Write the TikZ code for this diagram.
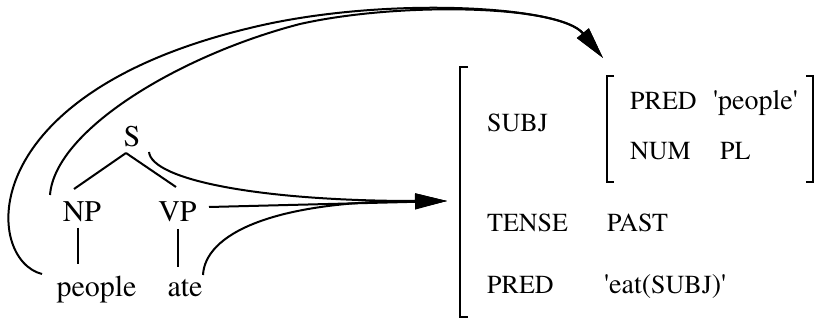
\documentclass[tikz,border=0pt]{standalone}
\usepackage{fontspec}
\setmainfont{TeX Gyre Termes}
\usetikzlibrary{arrows.meta}
\newcommand{\qq}{\textquotesingle}
\begin{document}
\begin{tikzpicture}[x=1pt,y=-1pt,
  treelab/.style={inner sep=0pt,anchor=base,font=\fontsize{30}{36}\selectfont},
  featlab/.style={inner sep=0pt,anchor=base west,font=\fontsize{26}{31}\selectfont},
  vallab/.style={inner sep=0pt,anchor=base west,font=\fontsize{28}{33}\selectfont},
  branch/.style={line width=2pt},
  brack/.style={line width=2.4pt},
  link/.style={line width=2pt,-{Triangle[length=32pt,width=15pt]}}]
\useasboundingbox (0,0) rectangle (828,320);
% tree
\node[treelab] (S) at (132,147) {S};
\node[treelab] (NP) at (82,222) {NP};
\node[treelab] (VP) at (177.5,222) {VP};
\node[treelab] (people) at (96.5,297) {people};
\node[treelab] (ate) at (185,297) {ate};
\coordinate (apex) at (126,153);
\draw[branch] (apex) -- (74,189);
\draw[branch] (apex) -- (176,187);
\draw[branch] (78,228) -- (78,264);
\draw[branch] (178,229) -- (178,267);
% feature structure
\node[featlab] (subj) at (487,132) {SUBJ};
\node[featlab] (pred1) at (630,110) {PRED};
\node[vallab] (peopleval) at (713,110) {\qq people\qq};
\node[featlab] (num) at (630,160) {NUM};
\node[featlab] (pl) at (720,160) {PL};
\node[featlab] (tense) at (487,232) {TENSE};
\node[featlab] (past) at (607,232) {PAST};
\node[featlab] (pred2) at (487,294) {PRED};
\node[vallab] (eatval) at (604,294) {\qq eat(\fontsize{26}{31}\selectfont SUBJ\fontsize{28}{33}\selectfont)\qq};
\draw[brack] (468,67) -- (460,67) -- (460,317) -- (468,317);
\draw[brack] (614,76) -- (607,76) -- (607,182) -- (614,182);
\draw[brack] (806,76) -- (813,76) -- (813,182) -- (806,182);
% arrow targets
\coordinate (fstip) at (447,201);
\coordinate (subjtip) at (603,58);
\coordinate (Sout) at (149,152);
\coordinate (VPout) at (209,207);
\coordinate (ateout) at (203,275);
\coordinate (NPout) at (50,195);
\coordinate (peopleout) at (42,274);
% connectors
\draw[link] (Sout) .. controls (152,180) and (260,201) .. (fstip);
\draw[link] (VPout) -- (fstip);
\draw[link] (ateout) .. controls (205,235) and (270,201) .. (fstip);
\draw[link] (peopleout) .. controls (-15,260) and (-30,95) .. (250,28)
  .. controls (380,-4) and (560,5) .. (subjtip);
\draw[link] (NPout) .. controls (55,130) and (180,55) .. (300,24)
  .. controls (400,1.5) and (560,5) .. (subjtip);
\end{tikzpicture}
\end{document}
